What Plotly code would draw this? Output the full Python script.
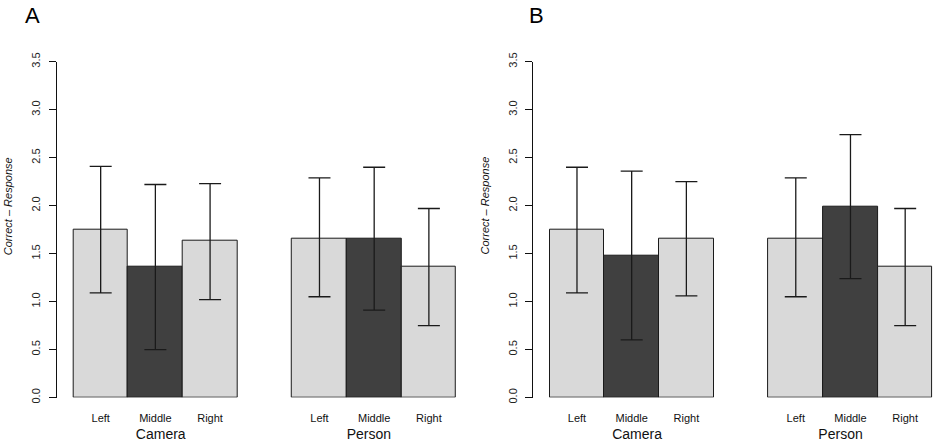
import plotly.graph_objects as go

# ---- data ----
conditions = ["Left", "Middle", "Right"]
groups = ["Camera", "Person"]

A_camera_mean = [1.75, 1.36, 1.63]
A_camera_lo = [1.09, 0.50, 1.02]
A_camera_hi = [2.41, 2.22, 2.23]

A_person_mean = [1.66, 1.66, 1.36]
A_person_lo = [1.05, 0.91, 0.75]
A_person_hi = [2.29, 2.40, 1.97]

B_camera_mean = [1.75, 1.48, 1.66]
B_camera_lo = [1.09, 0.60, 1.06]
B_camera_hi = [2.40, 2.36, 2.25]

B_person_mean = [1.66, 1.99, 1.36]
B_person_lo = [1.05, 1.24, 0.75]
B_person_hi = [2.29, 2.74, 1.97]

y_ticks = [0.0, 0.5, 1.0, 1.5, 2.0, 2.5, 3.0, 3.5]

LIGHT = "#d9d9d9"
DARK = "#404040"
bar_colors = [LIGHT, DARK, LIGHT]
FONT = "Liberation Sans, Arial, Helvetica, sans-serif"
W, H = 940, 444

fig = go.Figure()

def add_bars(mean, lo, hi, xa, ya):
    fig.add_trace(go.Bar(
        x=conditions, y=mean, xaxis=xa, yaxis=ya,
        marker=dict(color=bar_colors, line=dict(color="#1a1a1a", width=1)),
        error_y=dict(type="data", symmetric=False,
                     array=[h - m for h, m in zip(hi, mean)],
                     arrayminus=[m - l for m, l in zip(mean, lo)],
                     color="#1a1a1a", thickness=1.3, width=11),
        showlegend=False, hoverinfo="skip"))

add_bars(A_camera_mean, A_camera_lo, A_camera_hi, "x", "y")
add_bars(A_person_mean, A_person_lo, A_person_hi, "x2", "y")
add_bars(B_camera_mean, B_camera_lo, B_camera_hi, "x3", "y2")
add_bars(B_person_mean, B_person_lo, B_person_hi, "x4", "y2")

px_unit = 54.7
def xdom(a, b):
    return [a / W, min(b, W) / W]

y_bottom_px, y_top_px = 397.5, 61.7
ydom = [(H - y_bottom_px) / H, (H - y_top_px) / H]

def xaxis(dom, rng, title, anchor):
    return dict(domain=dom, range=rng, anchor=anchor, showline=False, ticks="",
                showgrid=False, zeroline=False, ticklabelstandoff=12,
                tickfont=dict(family=FONT, size=11, color="#111"),
                title=dict(text=title, standoff=6,
                           font=dict(family=FONT, size=14, color="#111")),
                automargin=False, fixedrange=True)

def yaxis(anchor):
    return dict(domain=ydom, range=[0, 3.5], anchor=anchor,
                showline=True, linecolor="#111", linewidth=1,
                ticks="outside", ticklen=7, tickcolor="#111", tickwidth=1,
                tickvals=y_ticks, ticktext=[f"{v:.1f}" for v in y_ticks],
                tickangle=-90, ticklabelstandoff=4,
                tickfont=dict(family=FONT, size=11, color="#222"),
                showgrid=False, zeroline=False, automargin=False, fixedrange=True)

A0 = 56.7
B0 = 533.0
span = 3.804 * px_unit

fig.update_layout(
    width=W, height=H,
    margin=dict(l=0, r=0, t=0, b=0),
    paper_bgcolor="white", plot_bgcolor="white",
    bargap=0,
    xaxis=xaxis(xdom(A0, A0 + span), [-0.804, 3.0], groups[0], "y"),
    xaxis2=xaxis(xdom(A0 + span, A0 + 2 * span), [-1.0, 2.804], groups[1], "y"),
    xaxis3=xaxis(xdom(B0, B0 + span), [-0.804, 3.0], groups[0], "y2"),
    xaxis4=xaxis(xdom(B0 + span, W), [-1.0, -1.0 + (W - B0 - span) / px_unit], groups[1], "y2"),
    yaxis=yaxis("x"),
    yaxis2=yaxis("x3"),
)

ytitle_y = (H - 206) / H
for xpx in (A0 - 48.5, B0 - 48.5):
    fig.add_annotation(x=xpx / W, y=ytitle_y, xref="paper", yref="paper",
                       text="<i>Correct \u2013 Response</i>", textangle=-90,
                       showarrow=False, xanchor="center", yanchor="middle",
                       font=dict(family=FONT, size=11, color="#111"))

for xpx, lab in [(32, "A"), (536, "B")]:
    fig.add_annotation(x=xpx / W, y=(H - 16) / H, xref="paper", yref="paper",
                       text=lab, showarrow=False, xanchor="center", yanchor="middle",
                       font=dict(family=FONT, size=22, color="#000"))

fig.write_html("out.html")
